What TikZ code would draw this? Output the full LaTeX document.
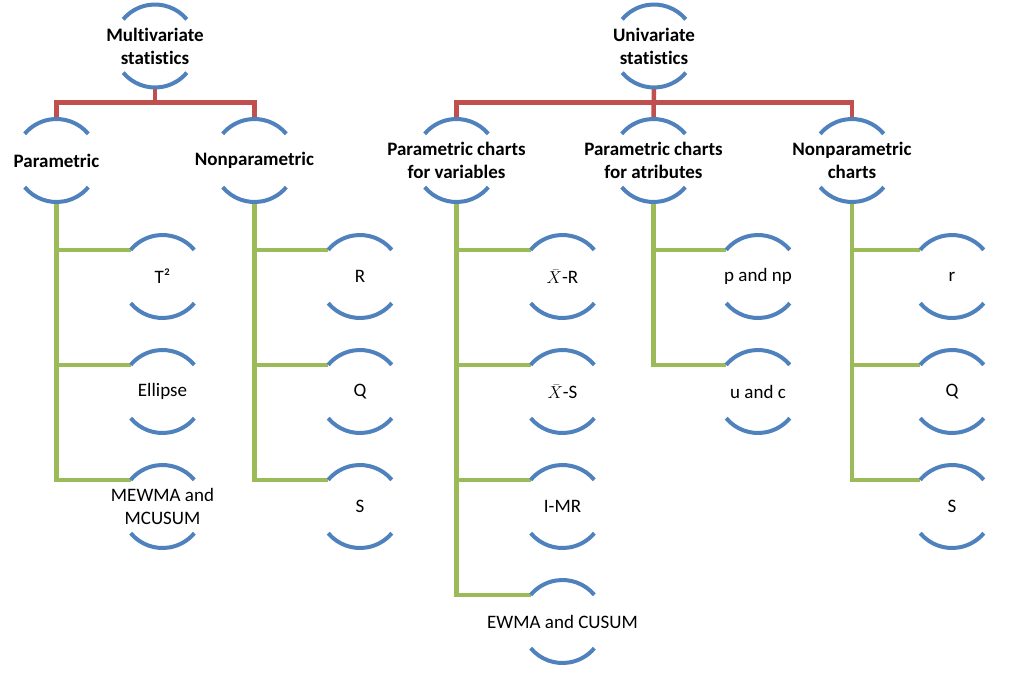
\documentclass[tikz,border=0pt]{standalone}
\usepackage{fontspec}
\setmainfont{Carlito}[Ligatures=NoCommon]
\definecolor{arcblue}{RGB}{79,129,189}
\definecolor{trunkred}{RGB}{192,80,77}
\definecolor{branchgreen}{RGB}{155,187,89}
\tikzset{
    bubble/.style={circle,minimum size=83pt,inner sep=0pt,outer sep=0pt},
    arcline/.style={arcblue,line width=4pt},
    trunk/.style={trunkred,line width=4.5pt},
    branch/.style={branchgreen,line width=4.5pt},
    head/.style={align=center,inner sep=0pt,font=\bfseries\fontsize{19}{23}\selectfont},
    leaf/.style={align=center,inner sep=0pt,font=\fontsize{19}{23}\selectfont}
}
\begin{document}
\begin{tikzpicture}[x=1pt,y=1pt]
    \useasboundingbox (0,0) rectangle (1009,-673);

    \node[bubble,label={[head]center:{Multivariate\\statistics}}] (multi) at (155,-46) {};
    \node[bubble,label={[head]center:{Univariate\\statistics}}] (uni) at (654,-46) {};

    \node[bubble,label={[head]center:Parametric}] (par) at (56.5,-160.5) {};
    \node[bubble,label={[head]center:Nonparametric}] (npar) at (254.5,-160.5) {};
    \node[bubble,label={[head]center:{Parametric charts\\for variables}}] (pvar) at (456.5,-160.5) {};
    \node[bubble,label={[head]center:{Parametric charts\\for atributes}}] (patt) at (653.5,-160.5) {};
    \node[bubble,label={[head]center:{Nonparametric\\charts}}] (npc) at (852,-160.5) {};

    \node[bubble,label={[leaf]center:T²}] (tsq) at (162.5,-276.5) {};
    \node[bubble,label={[leaf]center:Ellipse}] (ellipse) at (162.5,-391.5) {};
    \node[bubble,label={[leaf]center:{MEWMA and\\MCUSUM}}] (mewma) at (162.5,-506.5) {};

    \node[bubble,label={[leaf]center:R}] (rng) at (360,-276.5) {};
    \node[bubble,label={[leaf]center:Q}] (qstat) at (360,-391.5) {};
    \node[bubble,label={[leaf]center:S}] (sstat) at (360,-506.5) {};

    \node[bubble,label={[leaf]center:{$\bar{X}$-R}}] (xbarr) at (562.5,-276.5) {};
    \node[bubble,label={[leaf]center:{$\bar{X}$-S}}] (xbars) at (562.5,-391.5) {};
    \node[bubble,label={[leaf]center:I-MR}] (imr) at (562.5,-506.5) {};
    \node[bubble,label={[leaf]center:EWMA and CUSUM}] (ewma) at (562.5,-621.5) {};

    \node[bubble,label={[leaf]center:p and np}] (pnp) at (758,-276.5) {};
    \node[bubble,label={[leaf]center:u and c}] (uc) at (758,-391.5) {};

    \node[bubble,label={[leaf]center:r}] (rchart) at (952,-276.5) {};
    \node[bubble,label={[leaf]center:Q}] (qchart) at (952,-391.5) {};
    \node[bubble,label={[leaf]center:S}] (schart) at (952,-506.5) {};

    \draw[trunk] (multi.south) -- ++(0,-15) -| (par.north);
    \draw[trunk] (multi.south) -- ++(0,-15) -| (npar.north);
    \draw[trunk] (uni.south) -- ++(0,-15) -| (pvar.north);
    \draw[trunk] (uni.south) -- (patt.north);
    \draw[trunk] (uni.south) -- ++(0,-15) -| (npc.north);

    \draw[branch] (par.south) |- (tsq.140);
    \draw[branch] (par.south) |- (ellipse.140);
    \draw[branch] (par.south) |- (mewma.140);
    \draw[branch] (npar.south) |- (rng.140);
    \draw[branch] (npar.south) |- (qstat.140);
    \draw[branch] (npar.south) |- (sstat.140);
    \draw[branch] (pvar.south) |- (xbarr.140);
    \draw[branch] (pvar.south) |- (xbars.140);
    \draw[branch] (pvar.south) |- (imr.140);
    \draw[branch] (pvar.south) |- (ewma.140);
    \draw[branch] (patt.south) |- (pnp.140);
    \draw[branch] (patt.south) |- (uc.140);
    \draw[branch] (npc.south) |- (rchart.140);
    \draw[branch] (npc.south) |- (qchart.140);
    \draw[branch] (npc.south) |- (schart.140);

    \foreach \n in {multi,uni,par,npar,pvar,patt,npc,tsq,ellipse,mewma,rng,qstat,sstat,xbarr,xbars,imr,ewma,pnp,uc,rchart,qchart,schart}{
        \draw[arcline] (\n.40) arc[start angle=40,end angle=140,radius=41.5];
        \draw[arcline] (\n.220) arc[start angle=220,end angle=320,radius=41.5];
    }
\end{tikzpicture}
\end{document}
